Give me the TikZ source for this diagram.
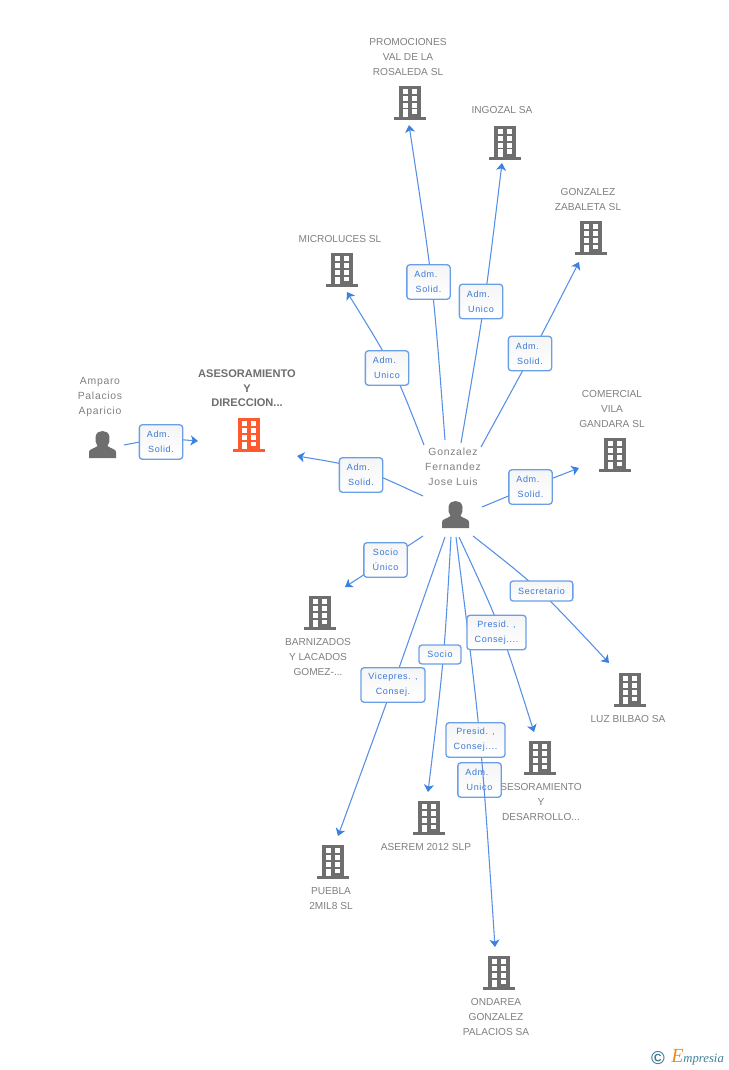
\documentclass[tikz,border=0pt]{standalone}
\usepackage{fontspec}
\setmainfont{Liberation Sans}
\newfontfamily\lblfont[LetterSpace=7]{Liberation Sans}
\newfontfamily\namefont[LetterSpace=7]{Liberation Sans}
\newfontfamily\logofont{Liberation Serif}
\usetikzlibrary{arrows.meta}
\definecolor{edgeblue}{HTML}{5590E6}
\definecolor{tipblue}{HTML}{3C80E0}
\definecolor{boxblue}{HTML}{6A9FE8}
\definecolor{txtblue}{HTML}{3A78D8}
\definecolor{greyicon}{HTML}{6E6E6E}
\definecolor{greytxt}{HTML}{7F7F7F}
\definecolor{hotorange}{HTML}{FF5A2D}
\definecolor{logoteal}{HTML}{3F7F96}
\definecolor{logoorange}{HTML}{F08A1E}
\tikzset{
  link/.style={draw=edgeblue,line width=0.8pt,-{Stealth[length=5.5pt,width=7.5pt,inset=1.5pt,color=tipblue]}},
  rolebox/.style={draw=boxblue,line width=1pt,rounded corners=2.2pt,top color=black!4,bottom color=white,
    inner sep=0pt,align=center,text=txtblue,font=\lblfont\fontsize{6.75}{11.25}\selectfont},
  twoline/.style={rolebox,minimum width=32.5pt,minimum height=25.8pt},
  capsname/.style={inner sep=0pt,align=center,text=greytxt,font=\fontsize{7.6}{11.25}\selectfont},
  mixedname/.style={inner sep=0pt,align=center,text=greytxt,font=\namefont\fontsize{7.8}{11.25}\selectfont},
  boldname/.style={inner sep=0pt,align=center,text=greyicon,font=\bfseries\fontsize{8.3}{11}\selectfont},
  pics/bldg/.style={code={
    \fill[#1] (-16,31) rectangle (16,34);
    \fill[#1] (-11,0) rectangle (11,31);
    \foreach \yy in {3,10,17}{
      \fill[white] (-7.3,\yy) rectangle (-2.3,\yy+5);
      \fill[white] (1.7,\yy) rectangle (7.3,\yy+5);}
    \fill[white] (-7.3,23.5) rectangle (-2.3,31);
    \fill[white] (1.7,23.5) rectangle (7.3,28);
  }},
  pics/person/.style={code={
    \fill[greyicon] (-13.5,27) -- (-13.5,21) .. controls (-13.5,18) and (-8,17.5) .. (-5,15)
      .. controls (-7,12) and (-7.5,9) .. (-7,6) .. controls (-6.5,1.5) and (-3,0) .. (0,0)
      .. controls (3,0) and (6.5,1.5) .. (7,6) .. controls (7.5,9) and (7,12) .. (5,15)
      .. controls (8,17.5) and (13.5,18) .. (13.5,21) -- (13.5,27) -- cycle;
  }}
}
\begin{document}
\begin{tikzpicture}[x=0.75pt,y=-0.75pt]
\useasboundingbox (0,0) rectangle (728,1070);
% icons
\pic at (410,86) {bldg=greyicon};
\pic at (505,126) {bldg=greyicon};
\pic at (591,221) {bldg=greyicon};
\pic at (342,253) {bldg=greyicon};
\pic at (249,418) {bldg=hotorange};
\pic at (615,438) {bldg=greyicon};
\pic at (320,596) {bldg=greyicon};
\pic at (630,673) {bldg=greyicon};
\pic at (540,741) {bldg=greyicon};
\pic at (429,801) {bldg=greyicon};
\pic at (333,845) {bldg=greyicon};
\pic at (499,956) {bldg=greyicon};
\pic at (102.5,431) {person};
\pic at (455.5,501) {person};
% names
\node[capsname] (npromo) at (408,57) {PROMOCIONES\\VAL DE LA\\ROSALEDA SL};
\node[capsname] (ningo) at (502,110) {INGOZAL SA};
\node[capsname] (nzaba) at (588,199.5) {GONZALEZ\\ZABALETA SL};
\node[capsname] (nmicro) at (340,239) {MICROLUCES SL};
\node[mixedname] (namp) at (100,397) {Amparo\\Palacios\\Aparicio};
\node[boldname] (nases) at (247,388.5) {ASESORAMIENTO\\Y\\DIRECCION...};
\node[mixedname] (ngonz) at (453,467) {Gonzalez\\Fernandez\\Jose Luis};
\node[capsname] (ncom) at (612,409) {COMERCIAL\\VILA\\GANDARA SL};
\node[capsname] (nbarn) at (318,657) {BARNIZADOS\\Y LACADOS\\GOMEZ-...};
\node[capsname] (nluz) at (628,719) {LUZ BILBAO SA};
\node[capsname] (nsesor) at (541,802) {SESORAMIENTO\\Y\\DESARROLLO...};
\node[capsname] (naser) at (426,847) {ASEREM 2012 SLP};
\node[capsname] (npue) at (331,898.5) {PUEBLA\\2MIL8 SL};
\node[capsname] (nond) at (496,1017) {ONDAREA\\GONZALEZ\\PALACIOS SA};
% connector ends
\coordinate (s1) at (445,440); \coordinate (t1) at (409,125);
\coordinate (s2) at (461,443); \coordinate (t2) at (502,163);
\coordinate (s3) at (481,447); \coordinate (t3) at (579,262);
\coordinate (s4) at (424,445); \coordinate (t4) at (347,292);
\coordinate (s5) at (423,496); \coordinate (t5) at (297,456);
\coordinate (s6) at (482,507); \coordinate (t6) at (579,468);
\coordinate (s7) at (124,445); \coordinate (t7) at (198,441);
\coordinate (s8) at (423,536); \coordinate (t8) at (345,587);
\coordinate (s10) at (445,537); \coordinate (t10) at (338,836);
\coordinate (s11) at (451,537); \coordinate (t11) at (428,792);
\coordinate (s12) at (456,537); \coordinate (t12) at (495,947);
\coordinate (s13) at (459,537); \coordinate (t13) at (534,732);
\coordinate (s14) at (473,536); \coordinate (t14) at (609,663);
% connectors
\draw[link] (s1) .. controls (433,282) .. (t1);
\draw[link] (s2) .. controls (485,303) .. (t2);
\draw[link] (s3) .. controls (533,352) .. (t3);
\draw[link] (s4) .. controls (394,368) .. (t4);
\draw[link] (s5) .. controls (358,466) .. (t5);
\draw[link] (s6) .. controls (530,487) .. (t6);
\draw[link] (s7) .. controls (160,438) .. (t7);
\draw[link] (s8) .. controls (385,561) .. (t8);
\draw[link] (s10) .. controls (395,680) .. (t10);
\draw[link] (s11) .. controls (444,660) .. (t11);
\draw[link] (s13) .. controls (500,625) .. (t13);
\draw[link] (s14) .. controls (538,587) .. (t14);
% role labels
\node[twoline] (l1) at (428.5,282) {Adm.\hspace*{4pt}\\Solid.};
\node[twoline] (l2) at (481,301.5) {Adm.\hspace*{4pt}\\Unico};
\node[twoline] (l3) at (530,353.5) {Adm.\hspace*{4pt}\\Solid.};
\node[twoline] (l4) at (387,368) {Adm.\hspace*{4pt}\\Unico};
\node[twoline] (l5) at (361,475) {Adm.\hspace*{4pt}\\Solid.};
\node[twoline] (l6) at (530.5,487) {Adm.\hspace*{4pt}\\Solid.};
\node[twoline] (l7) at (161,442) {Adm.\hspace*{4pt}\\Solid.};
\node[twoline] (l8) at (385.5,560) {Socio\\Único};
\node[rolebox,minimum width=48pt,minimum height=25.8pt] (l10) at (393,685) {Vicepres. ,\\Consej.};
\node[rolebox,minimum width=31.5pt,minimum height=14.2pt] (l11) at (440,654.5) {Socio};
\node[rolebox,minimum width=47pt,minimum height=15pt] (l14) at (541.5,591) {Secretario};
\node[twoline] (l15) at (479.5,780) {Adm.\hspace*{4pt}\\Unico};
\draw[link] (s12) .. controls (481,735) .. (t12);
\node[rolebox,minimum width=44.3pt,minimum height=25.8pt] (l13) at (496.5,632.5) {Presid. ,\\Consej....};
\node[rolebox,minimum width=44.3pt,minimum height=25.8pt] (l12) at (475.5,740) {Presid. ,\\Consej....};
% logo
\node[inner sep=0pt,text=logoteal,font=\bfseries\fontsize{14}{14}\selectfont] (copy) at (658,1058) {©};
\node[inner sep=0pt,anchor=base west,font=\logofont\itshape\fontsize{9.5}{10}\selectfont,text=logoteal] (logo) at (671,1062)
  {\textcolor{logoorange}{\fontsize{15}{15}\selectfont E}mpresia};
\end{tikzpicture}
\end{document}
